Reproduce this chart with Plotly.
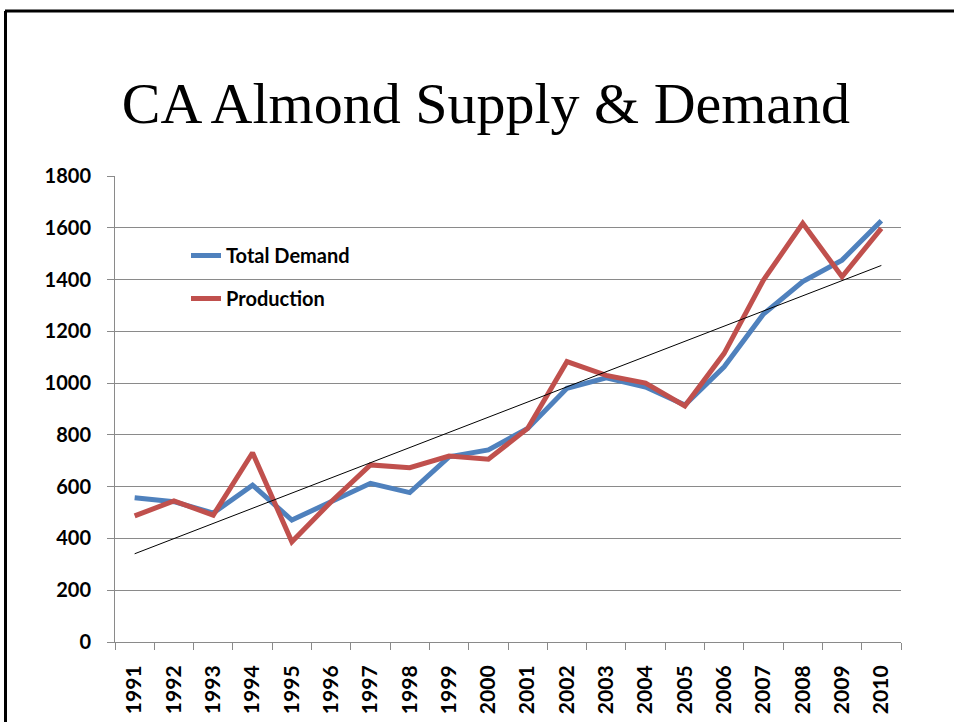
import numpy as np
import plotly.graph_objects as go

years = [str(y) for y in range(1991, 2011)]
total_demand = [557, 542, 498, 606, 471, 542, 613, 577, 715, 742,
                825, 980, 1020, 985, 915, 1063, 1267, 1392, 1475, 1627]
production = [487, 545, 490, 731, 387, 542, 684, 673, 718, 706,
              825, 1083, 1030, 1000, 912, 1115, 1398, 1617, 1411, 1598]
y_ticks = [0, 200, 400, 600, 800, 1000, 1200, 1400, 1600, 1800]

# Linear trendline fitted on production (as Excel does)
idx = np.arange(1, len(years) + 1)
slope, intercept = np.polyfit(idx, production, 1)
trend = slope * idx + intercept

BLUE = "#4F81BD"
RED = "#C0504D"
GRID = "#8a8a8a"

fig = go.Figure()
fig.add_trace(go.Scatter(x=years, y=total_demand, mode="lines", name="Total Demand",
                         line=dict(color=BLUE, width=5), legendgroup="a"))
fig.add_trace(go.Scatter(x=years, y=production, mode="lines", name="Production",
                         line=dict(color=RED, width=5), legendgroup="b"))
fig.add_trace(go.Scatter(x=years, y=trend, mode="lines", name="Linear (Production)",
                         line=dict(color="black", width=1), showlegend=False))

W, H = 954, 722
L, R, T, B = 115, 53, 176, 80
pw, ph = W - L - R, H - T - B

def px_x(px):
    return (px - L) / pw

def px_y(py):
    return (H - B - py) / ph

fig.update_layout(
    width=W, height=H,
    margin=dict(l=L, r=R, t=T, b=B),
    paper_bgcolor="white", plot_bgcolor="white",
    title=dict(text="CA Almond Supply &amp; Demand", x=486 / W, y=1 - 103 / H,
               xanchor="center", yanchor="middle", xref="container", yref="container",
               font=dict(family="Liberation Serif", size=58, color="black")),
    showlegend=True,
    legend=dict(x=px_x(186), y=px_y(236), xanchor="left", yanchor="top",
                bgcolor="rgba(0,0,0,0)", traceorder="grouped", tracegroupgap=14,
                font=dict(family="Lato", size=20, color="black", weight="bold")),
    shapes=[
        dict(type="line", xref="paper", yref="paper", x0=px_x(5), x1=px_x(954),
             y0=px_y(11), y1=px_y(11), line=dict(color="black", width=3)),
        dict(type="line", xref="paper", yref="paper", x0=px_x(5.5), x1=px_x(5.5),
             y0=px_y(11), y1=px_y(722), line=dict(color="black", width=3)),
    ],
)

fig.update_xaxes(
    type="category", range=[-0.5, len(years) - 0.5], automargin=False,
    showline=True, linecolor=GRID, linewidth=1, showgrid=False,
    ticks="outside", tickson="boundaries", ticklen=7, tickcolor=GRID, tickwidth=1,
    tickangle=-90, ticklabelstandoff=14,
    tickfont=dict(family="Lato", size=21, color="black", weight="bold"),
)
fig.update_yaxes(
    range=[0, 1800], tickvals=y_ticks, ticktext=[str(v) for v in y_ticks],
    automargin=False,
    showline=True, linecolor=GRID, linewidth=1,
    showgrid=True, gridcolor=GRID, gridwidth=1, zeroline=False,
    ticks="outside", ticklen=7, tickcolor=GRID, tickwidth=1, ticklabelstandoff=12,
    tickfont=dict(family="Lato", size=20, color="black", weight="bold"),
)

fig.write_html("out.html", config={"displayModeBar": False},
               post_script="document.body.style.margin='0px';document.body.style.overflow='hidden';")
